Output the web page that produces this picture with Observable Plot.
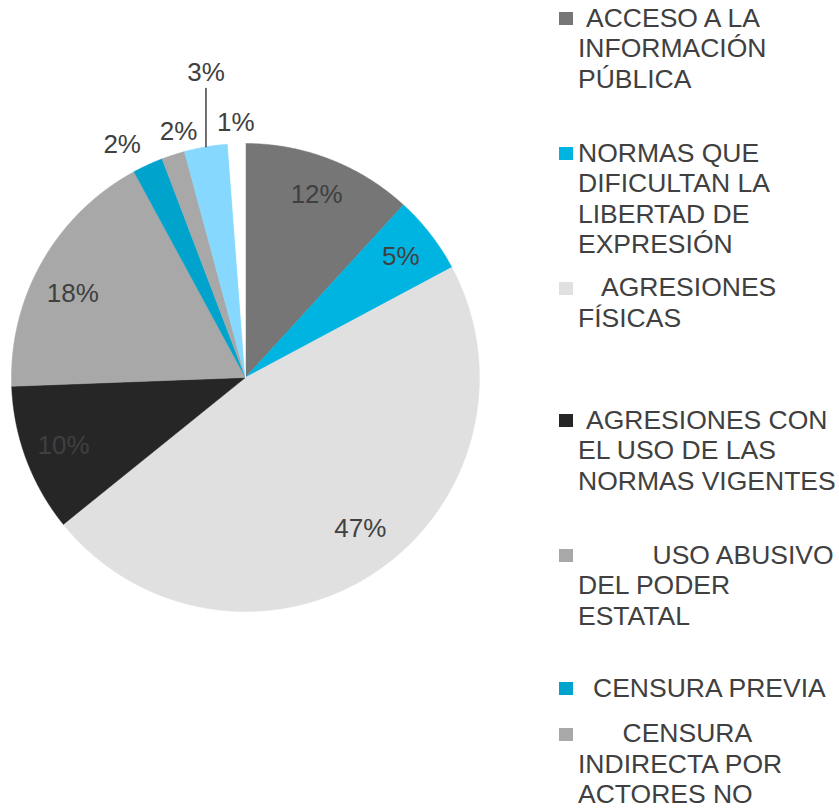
<!DOCTYPE html>
<html><head><meta charset="utf-8">
<script src="https://cdn.jsdelivr.net/npm/d3@7"></script>
<script src="https://cdn.jsdelivr.net/npm/@observablehq/plot@0.6"></script>
<style>
html,body{margin:0;padding:0;background:#fff;overflow:hidden;width:839px;height:809px}
#wrap{position:relative;width:839px;height:809px;overflow:hidden;font-family:"Liberation Sans",Arial,sans-serif}
#chart{position:absolute;left:0;top:0}
.item{position:absolute;left:559px;width:280px}
.sw{position:absolute;left:0;width:14px;height:13px}
.txt{position:absolute;left:19px;font-size:26.5px;line-height:30.5px;color:#404040;white-space:nowrap}
</style></head><body><div id="wrap"><div id="chart"></div><div id="legend"></div></div>
<script>
// ---- data ----
const categories = [
  "ACCESO A LA INFORMACIÓN PÚBLICA",
  "NORMAS QUE DIFICULTAN LA LIBERTAD DE EXPRESIÓN",
  "AGRESIONES FÍSICAS",
  "AGRESIONES CON EL USO DE LAS NORMAS VIGENTES",
  "USO ABUSIVO DEL PODER ESTATAL",
  "CENSURA PREVIA",
  "CENSURA INDIRECTA POR ACTORES NO ESTATALES",
  "AMENAZAS",
  "OTROS"
];
const values = [11.8, 5.4, 47.0, 10.2, 17.7, 2.1, 1.6, 3.0, 1.2];
const valueLabels = ["12%", "5%", "47%", "10%", "18%", "2%", "2%", "3%", "1%"];
const colors = ["#767676", "#00B4E2", "#E0E0E0", "#262626", "#A8A8A8", "#00A3CC", "#A8A8A8", "#86D8FF", "#FFFFFF"];
// legend text as visible in the (cropped) reference
const legendLines = [
  ["ACCESO A LA", "INFORMACIÓN", "PÚBLICA"],
  ["NORMAS QUE", "DIFICULTAN LA", "LIBERTAD DE", "EXPRESIÓN"],
  ["AGRESIONES", "FÍSICAS"],
  ["AGRESIONES CON", "EL USO DE LAS", "NORMAS VIGENTES"],
  ["USO ABUSIVO", "DEL PODER", "ESTATAL"],
  ["CENSURA PREVIA"],
  ["CENSURA", "INDIRECTA POR", "ACTORES NO"]
];

// ---- layout ----
const labelRadius = [0.84, 0.84, 0.81, 0.83, 0.82, 1.124, 1.09, 1.303, 1.09];
const labelAngleShift = [0, 0, -3.8, 0, -3.8, -3.3, 2.8, 0, 0]; // degrees
const leaderIndex = 7;
const leaderTop = 1.235;
const legendBaselines = [27.3, 162.3, 296.7, 429.3, 564, 697.3, 742.7];
const legendIndent = [8, 0, 23, 8, 74.5, 15, 44.5];

// ---- build slices ----
const total = d3.sum(values);
const slices = [];
const labelData = [];
let cum = 0;
values.forEach((v, i) => {
  const a0 = cum / total * 2 * Math.PI;
  cum += v;
  const a1 = cum / total * 2 * Math.PI;
  const n = Math.max(2, Math.ceil((a1 - a0) / (Math.PI / 720)));
  slices.push({cat: categories[i], x: 0, y: 0});
  for (let k = 0; k <= n; k++) {
    const a = a0 + (a1 - a0) * k / n;
    slices.push({cat: categories[i], x: Math.sin(a), y: Math.cos(a)});
  }
  slices.push({cat: categories[i], x: 0, y: 0});
  const m = (a0 + a1) / 2;
  const la = m + labelAngleShift[i] * Math.PI / 180;
  if (i === leaderIndex) {
    labelData.push({text: valueLabels[i], x: Math.sin(m), y: labelRadius[i], mid: m, i});
  } else {
    labelData.push({text: valueLabels[i], x: Math.sin(la) * labelRadius[i], y: Math.cos(la) * labelRadius[i], mid: m, i});
  }
});
const lead = labelData[leaderIndex];
const leaderData = [
  {x: Math.sin(lead.mid), y: Math.cos(lead.mid)},
  {x: Math.sin(lead.mid), y: leaderTop}
];

const chart = Plot.plot({
  width: 540,
  height: 809,
  margin: 0,
  x: {domain: [-1.047, 1.261], axis: null},
  y: {domain: [-1.846, 1.611], axis: null},
  color: {domain: categories, range: colors},
  style: {background: "transparent", fontFamily: "Liberation Sans, Arial, sans-serif"},
  marks: [
    Plot.line(slices, {x: "x", y: "y", z: "cat", fill: "cat", stroke: "cat", strokeWidth: 0.5, curve: "linear"}),
    Plot.line(leaderData, {x: "x", y: "y", stroke: "#404040", strokeWidth: 1.5}),
    Plot.text(labelData, {x: "x", y: "y", text: "text", fill: "#404040", fontSize: 26, fontFamily: "Liberation Sans, Arial, sans-serif"})
  ]
});
document.getElementById("chart").appendChild(chart);

// ---- legend ----
const leg = document.getElementById("legend");
legendLines.forEach((lines, i) => {
  const top = legendBaselines[i] - 24.4;
  const item = document.createElement("div");
  item.className = "item";
  item.style.top = top + "px";
  const sw = document.createElement("div");
  sw.className = "sw";
  sw.style.top = "9.4px";
  sw.style.background = colors[i];
  item.appendChild(sw);
  const tx = document.createElement("div");
  tx.className = "txt";
  tx.style.top = "0px";
  lines.forEach((ln, j) => {
    const d = document.createElement("div");
    d.textContent = ln;
    if (j === 0) d.style.paddingLeft = legendIndent[i] + "px";
    tx.appendChild(d);
  });
  item.appendChild(tx);
  leg.appendChild(item);
});
</script>
</body></html>
